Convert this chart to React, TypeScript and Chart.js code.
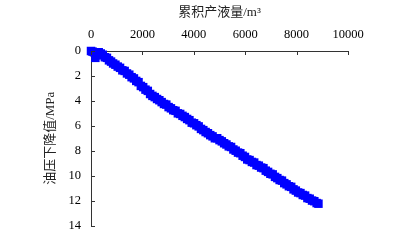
import React, { useEffect, useRef } from "react";
import { Chart, registerables } from "chart.js";

Chart.register(...registerables);

const cumulativeLiquid: number[] = [
  0, 60, 120, 170, 220, 300, 380, 460, 540, 620, 700, 780, 860, 950, 1040, 1130, 1220, 1310, 1400, 1490,
  1580, 1670, 1760, 1850, 1940, 2030, 2120, 2210, 2300, 2390, 2480, 2570, 2660, 2750, 2840, 2930, 3020,
  3110, 3200, 3290, 3380, 3470, 3560, 3650, 3740, 3830, 3920, 4010, 4100, 4190, 4280, 4370, 4460, 4550,
  4640, 4730, 4820, 4910, 5000, 5090, 5180, 5270, 5360, 5450, 5540, 5630, 5720, 5810, 5900, 5990, 6080,
  6170, 6260, 6350, 6440, 6530, 6620, 6710, 6800, 6890, 6980, 7070, 7160, 7250, 7340, 7430, 7520, 7610,
  7700, 7790, 7880, 7970, 8060, 8150, 8240, 8330, 8420, 8510, 8600, 8690, 8780, 8850,
];

const pressureDrop: number[] = [
  0, 0.05, 0.1, 0.55, 0.35, 0.1, 0.2, 0.3, 0.5, 0.55, 0.75, 0.85, 1.0, 1.1, 1.25, 1.35, 1.55, 1.6, 1.8, 1.9,
  2.1, 2.2, 2.4, 2.5, 2.8, 2.9, 3.1, 3.2, 3.45, 3.6, 3.7, 3.85, 3.95, 4.1, 4.25, 4.3, 4.5,
  4.6, 4.75, 4.8, 5.0, 5.05, 5.2, 5.3, 5.45, 5.55, 5.75, 5.8, 5.95, 6.05, 6.25, 6.35, 6.5, 6.6,
  6.75, 6.85, 7.0, 7.0, 7.15, 7.25, 7.4, 7.5, 7.65, 7.7, 7.9, 8.0, 8.15, 8.2, 8.4, 8.5, 8.7,
  8.75, 8.9, 8.95, 9.15, 9.2, 9.35, 9.4, 9.6, 9.7, 9.85, 9.9, 10.1, 10.2, 10.35, 10.4, 10.6, 10.7,
  10.85, 10.9, 11.1, 11.2, 11.35, 11.4, 11.55, 11.6, 11.8, 11.85, 12.0, 12.05, 12.2, 12.25,
];

const xTitle = "累积产液量/m³";
const yTitle = "油压下降值/MPa";

const AXIS_COLOR = "#333333";
const FONT_FAMILY = "'Liberation Serif', 'Noto Sans CJK SC', serif";

const inwardTicks = {
  id: "inwardTicks",
  afterDraw(chart: any) {
    const { ctx, chartArea, scales } = chart;
    ctx.save();
    ctx.strokeStyle = AXIS_COLOR;
    ctx.lineWidth = 1;
    const xs = scales.x;
    xs.ticks.forEach((t: any) => {
      const px = Math.round(xs.getPixelForValue(t.value)) + 0.5;
      ctx.beginPath();
      ctx.moveTo(px, chartArea.top);
      ctx.lineTo(px, chartArea.top + 4);
      ctx.stroke();
    });
    const ys = scales.y;
    ys.ticks.forEach((t: any) => {
      const py = Math.round(ys.getPixelForValue(t.value)) + 0.5;
      ctx.beginPath();
      ctx.moveTo(chartArea.left, py);
      ctx.lineTo(chartArea.left + 4, py);
      ctx.stroke();
    });
    ctx.restore();
  },
};

export default function App() {
  const ref = useRef<HTMLCanvasElement | null>(null);

  useEffect(() => {
    if (!ref.current) return;
    const points = cumulativeLiquid.map((v, i) => ({ x: v, y: pressureDrop[i] }));
    const chart = new Chart(ref.current, {
      type: "scatter",
      data: {
        datasets: [
          {
            data: points,
            showLine: true,
            clip: false,
            borderColor: "#0000ff",
            borderWidth: 2,
            backgroundColor: "#0000ff",
            pointStyle: "rect",
            pointRadius: 6,
            pointBorderWidth: 0,
            pointBorderColor: "#0000ff",
          },
        ],
      },
      options: {
        animation: false,
        responsive: false,
        devicePixelRatio: 1,
        layout: { padding: { left: 0, top: 0, right: 61, bottom: 16 } },
        plugins: { legend: { display: false }, tooltip: { enabled: false } },
        scales: {
          x: {
            type: "linear",
            position: "top",
            min: 0,
            max: 10000,
            afterFit: (s: any) => {
              s.height = 51;
            },
            ticks: {
              stepSize: 2000,
              padding: 9,
              color: "#000",
              font: { family: FONT_FAMILY, size: 12.5 },
              maxRotation: 0,
              callback: (v: any) => String(v),
            },
            grid: { display: false, drawTicks: false },
            border: { display: true, color: AXIS_COLOR, width: 1 },
            title: {
              display: true,
              text: xTitle,
              color: "#222",
              font: { family: FONT_FAMILY, size: 13 },
              padding: { top: 5, bottom: 0 },
            },
          },
          y: {
            type: "linear",
            reverse: true,
            min: 0,
            max: 14,
            afterFit: (s: any) => {
              s.width = 91;
            },
            ticks: {
              stepSize: 2,
              padding: 10,
              color: "#000",
              font: { family: FONT_FAMILY, size: 12.5 },
              callback: (v: any) => String(v),
            },
            grid: { display: false, drawTicks: false },
            border: { display: true, color: AXIS_COLOR, width: 1 },
            title: {
              display: true,
              text: yTitle,
              color: "#222",
              font: { family: FONT_FAMILY, size: 13 },
              padding: { top: 43, bottom: 0 },
            },
          },
        },
      },
      plugins: [inwardTicks],
    });
    return () => chart.destroy();
  }, []);

  return (
    <div style={{ position: "fixed", left: 0, top: 0, width: 409, height: 243, background: "#fff" }}>
      <canvas ref={ref} width={409} height={243} style={{ width: 409, height: 243, display: "block" }} />
    </div>
  );
}
